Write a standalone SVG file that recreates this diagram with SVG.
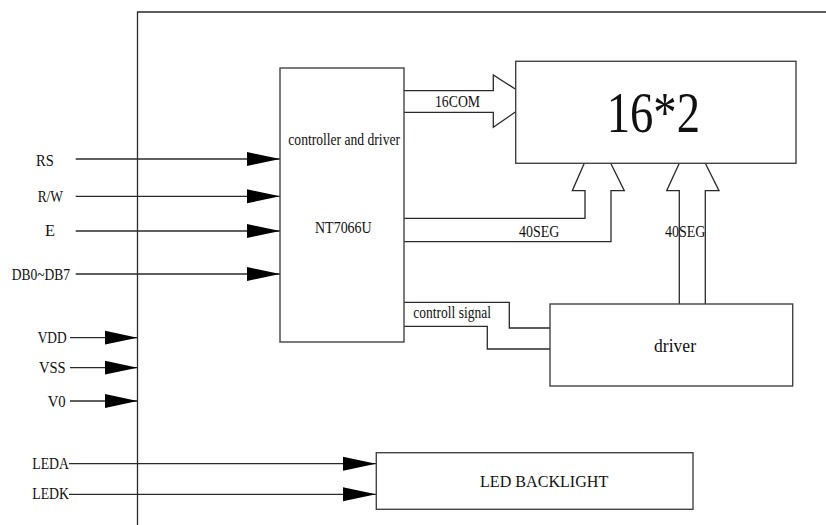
<svg xmlns="http://www.w3.org/2000/svg" width="826" height="525" viewBox="0 0 826 525">
<style>
  .ln{fill:none;stroke:#2a2a2a;stroke-width:1.3}
  .box{fill:#fff;stroke:#444;stroke-width:1.4}
  text{font-family:'Liberation Serif','Times New Roman',serif;fill:#111;font-size:16px}
</style>
<defs>
  <marker id="ah" markerUnits="userSpaceOnUse" markerWidth="34" markerHeight="16" refX="33" refY="8" orient="auto">
    <path d="M0,1 L33,8 L0,15 Z" fill="#000"/>
  </marker>
</defs>
<rect width="826" height="525" fill="#fff"/>

<g id="frame">
  <path class="ln" d="M137.5,525 V12 H826"/>
</g>

<g id="connectors">
  <line class="ln" x1="75.7" y1="159" x2="280" y2="159" marker-end="url(#ah)"/>
  <line class="ln" x1="75.7" y1="196.3" x2="280" y2="196.3" marker-end="url(#ah)"/>
  <line class="ln" x1="75.7" y1="231" x2="280" y2="231" marker-end="url(#ah)"/>
  <line class="ln" x1="75.7" y1="274" x2="280" y2="274" marker-end="url(#ah)"/>
  <line class="ln" x1="70" y1="337.7" x2="137.5" y2="337.7" marker-end="url(#ah)"/>
  <line class="ln" x1="70" y1="367.7" x2="137.5" y2="367.7" marker-end="url(#ah)"/>
  <line class="ln" x1="70" y1="401" x2="137.5" y2="401" marker-end="url(#ah)"/>
  <line class="ln" x1="69" y1="463.7" x2="376" y2="463.7" marker-end="url(#ah)"/>
  <line class="ln" x1="69" y1="494.3" x2="376" y2="494.3" marker-end="url(#ah)"/>
  <path class="ln" d="M404,90.7 H493.3 V75 L515.7,89.3 M404,112.3 H493.3 V127.3 L515.7,111.7"/>
  <path class="ln" d="M404,218.3 H585 V190.7 H572.3 L584.3,163.3 M404,241.7 H611 V190.7 H624.3 L610.7,163.3"/>
  <path class="ln" d="M679.3,304 V190.7 H666.7 L679.3,163.3 M705.3,304 V190.7 H719 L705.3,163.3"/>
  <path class="ln" d="M404,302.3 H509.3 V328 H550 M404,326.3 H487.3 V349 H550"/>
  <text x="435" y="106.7" textLength="45" lengthAdjust="spacingAndGlyphs">16COM</text>
  <text x="519" y="237.3" textLength="40.3" lengthAdjust="spacingAndGlyphs">40SEG</text>
  <text x="665" y="237.3" textLength="40.5" lengthAdjust="spacingAndGlyphs">40SEG</text>
  <text x="413.3" y="318.3" textLength="77.7" lengthAdjust="spacingAndGlyphs">controll signal</text>
</g>

<g id="pins">
  <text x="36" y="165.5" textLength="17.7" lengthAdjust="spacingAndGlyphs">RS</text>
  <text x="37.7" y="201.7" textLength="25.3" lengthAdjust="spacingAndGlyphs">R/W</text>
  <text x="45" y="235.7" textLength="10" lengthAdjust="spacingAndGlyphs">E</text>
  <text x="11.7" y="280" textLength="58.3" lengthAdjust="spacingAndGlyphs">DB0~DB7</text>
  <text x="37.7" y="343.3" textLength="29" lengthAdjust="spacingAndGlyphs">VDD</text>
  <text x="39" y="373.3" textLength="26.7" lengthAdjust="spacingAndGlyphs">VSS</text>
  <text x="47.7" y="406.7" textLength="18" lengthAdjust="spacingAndGlyphs">V0</text>
  <text x="32.3" y="468.5" textLength="36.7" lengthAdjust="spacingAndGlyphs">LEDA</text>
  <text x="32.3" y="498.5" textLength="36.7" lengthAdjust="spacingAndGlyphs">LEDK</text>
</g>

<g id="controller">
  <rect class="box" x="280" y="68" width="124" height="274" fill="none"/>
  <text x="288.3" y="145" textLength="111.7" lengthAdjust="spacingAndGlyphs">controller and driver</text>
  <text x="315" y="233.3" textLength="56.7" lengthAdjust="spacingAndGlyphs">NT7066U</text>
</g>

<g id="lcd">
  <rect class="box" x="515.7" y="61.3" width="280.3" height="102"/>
  <text x="606.7" y="131.7" style="font-size:58px" textLength="93.3" lengthAdjust="spacingAndGlyphs">16*2</text>
</g>

<g id="driver">
  <rect class="box" x="550" y="304" width="242.7" height="82"/>
  <text x="654" y="351.7" style="font-size:19px" textLength="42" lengthAdjust="spacingAndGlyphs">driver</text>
</g>

<g id="backlight">
  <rect class="box" x="376.3" y="452.7" width="316.7" height="56.6"/>
  <text x="480" y="486.7" style="font-size:17px" textLength="128.3" lengthAdjust="spacingAndGlyphs">LED BACKLIGHT</text>
</g>
</svg>
